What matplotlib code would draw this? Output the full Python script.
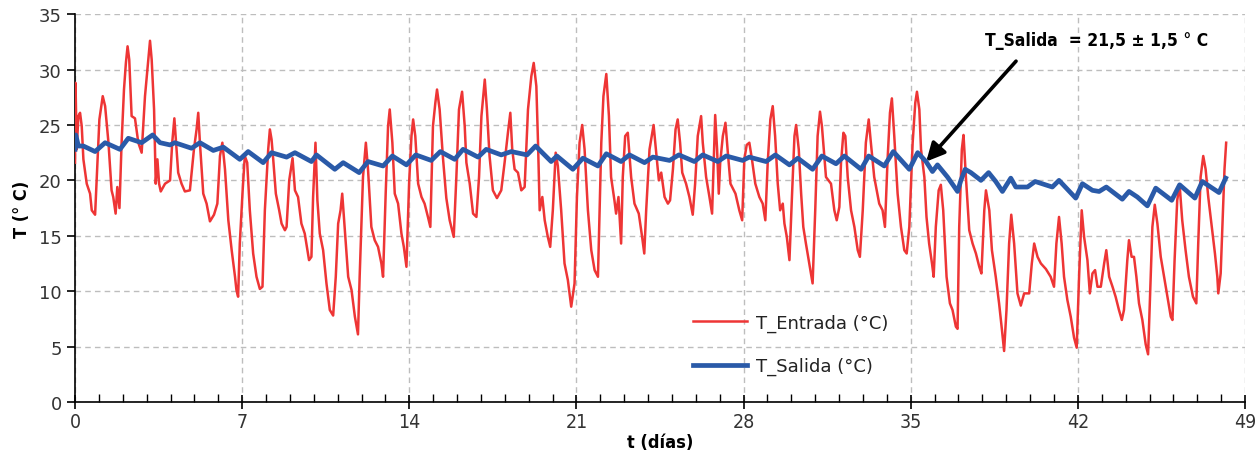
import matplotlib
matplotlib.use("Agg")
import matplotlib.pyplot as plt
from matplotlib.ticker import MultipleLocator
from matplotlib import font_manager
from matplotlib.font_manager import FontProperties

# T_Entrada: extremos (dias, °C)
t_entrada_dias = [
    0.00, 0.02, 0.07, 0.14, 0.21, 0.28, 0.35, 0.49, 0.63, 0.70, 0.84, 1.02, 1.16, 1.26, 1.40, 1.53,
    1.60, 1.70, 1.77, 1.86, 1.95, 2.05, 2.13, 2.20, 2.27, 2.37, 2.51, 2.65, 2.79, 2.93, 3.03, 3.14,
    3.21, 3.31, 3.38, 3.45, 3.52, 3.59, 3.77, 3.98, 4.07, 4.16, 4.23, 4.32, 4.46, 4.60, 4.81, 4.98,
    5.09, 5.16, 5.23, 5.37, 5.51, 5.65, 5.82, 5.96, 6.07, 6.17, 6.28, 6.42, 6.56, 6.70, 6.76, 6.83,
    6.90, 7.02, 7.11, 7.21, 7.32, 7.46, 7.60, 7.74, 7.85, 7.95, 8.02, 8.09, 8.16, 8.23, 8.30, 8.41,
    8.55, 8.65, 8.79, 8.86, 8.97, 9.11, 9.21, 9.34, 9.48, 9.62, 9.80, 9.90, 9.97, 10.07, 10.15, 10.25,
    10.39, 10.53, 10.67, 10.81, 10.92, 11.02, 11.12, 11.19, 11.30, 11.44, 11.58, 11.72, 11.85, 11.92,
    12.06, 12.18, 12.27, 12.41, 12.55, 12.69, 12.83, 12.90, 13.01, 13.11, 13.18, 13.29, 13.39, 13.53,
    13.67, 13.77, 13.88, 13.99, 14.09, 14.16, 14.25, 14.37, 14.51, 14.64, 14.78, 14.88, 14.99, 15.09,
    15.16, 15.27, 15.41, 15.55, 15.69, 15.86, 15.97, 16.08, 16.21, 16.32, 16.39, 16.53, 16.67, 16.81,
    16.92, 17.02, 17.16, 17.25, 17.36, 17.50, 17.67, 17.85, 17.99, 18.13, 18.23, 18.31, 18.41, 18.55,
    18.69, 18.83, 18.97, 19.11, 19.21, 19.32, 19.39, 19.46, 19.57, 19.67, 19.80, 19.90, 20.01, 20.13,
    20.22, 20.36, 20.50, 20.64, 20.78, 20.92, 21.02, 21.13, 21.24, 21.34, 21.48, 21.62, 21.76, 21.90,
    22.04, 22.13, 22.25, 22.36, 22.45, 22.59, 22.66, 22.76, 22.87, 22.94, 23.04, 23.15, 23.29, 23.43,
    23.61, 23.75, 23.84, 23.92, 24.06, 24.23, 24.34, 24.45, 24.55, 24.69, 24.83, 24.92, 25.04, 25.15,
    25.24, 25.34, 25.43, 25.59, 25.73, 25.87, 25.97, 26.08, 26.15, 26.22, 26.29, 26.43, 26.57, 26.68,
    26.74, 26.81, 26.89, 26.96, 27.02, 27.13, 27.24, 27.34, 27.45, 27.66, 27.82, 27.94, 28.03, 28.13,
    28.24, 28.35, 28.49, 28.66, 28.80, 28.91, 29.01, 29.12, 29.22, 29.32, 29.43, 29.53, 29.64, 29.71,
    29.81, 29.92, 30.03, 30.13, 30.20, 30.31, 30.41, 30.50, 30.61, 30.75, 30.89, 31.00, 31.10, 31.20,
    31.28, 31.38, 31.45, 31.66, 31.80, 31.90, 32.01, 32.08, 32.18, 32.26, 32.36, 32.50, 32.64, 32.78,
    32.87, 32.99, 33.12, 33.24, 33.33, 33.47, 33.68, 33.82, 33.92, 34.03, 34.13, 34.21, 34.31, 34.45,
    34.59, 34.73, 34.83, 34.94, 35.08, 35.19, 35.26, 35.36, 35.43, 35.57, 35.66, 35.77, 35.89, 35.96,
    36.05, 36.17, 36.26, 36.36, 36.50, 36.64, 36.75, 36.89, 36.96, 37.03, 37.14, 37.21, 37.31, 37.45,
    37.59, 37.73, 37.87, 37.96, 38.08, 38.15, 38.29, 38.40, 38.56, 38.70, 38.82, 38.91, 39.01, 39.12,
    39.21, 39.33, 39.47, 39.61, 39.75, 39.96, 40.07, 40.17, 40.31, 40.45, 40.66, 40.86, 41.00, 41.10,
    41.21, 41.32, 41.42, 41.56, 41.70, 41.84, 41.95, 42.05, 42.16, 42.26, 42.40, 42.50, 42.61, 42.72,
    42.82, 42.96, 43.10, 43.19, 43.31, 43.45, 43.58, 43.72, 43.84, 43.93, 44.07, 44.14, 44.25, 44.35,
    44.45, 44.56, 44.70, 44.84, 44.94, 45.05, 45.12, 45.22, 45.33, 45.47, 45.61, 45.75, 45.89, 45.96,
    46.05, 46.16, 46.26, 46.37, 46.51, 46.65, 46.82, 46.96, 47.04, 47.14, 47.25, 47.35, 47.46, 47.56,
    47.66, 47.74, 47.84, 47.88, 47.98, 48.05, 48.14, 48.21,
]
t_entrada = [
    21.6, 28.8, 22.8, 25.8, 26.1, 24.9, 21.9, 19.7, 18.8, 17.3, 16.9, 25.5, 27.6, 26.7, 23.4, 19.1,
    18.5, 17.0, 19.4, 17.5, 23.4, 28.2, 30.6, 32.1, 30.9, 25.8, 25.6, 23.4, 22.5, 27.6, 30.0, 32.6,
    30.9, 26.4, 19.7, 21.9, 19.7, 19.0, 19.7, 20.0, 23.4, 25.6, 23.4, 20.7, 19.7, 19.0, 19.1, 22.8,
    24.6, 26.1, 23.4, 18.8, 17.9, 16.3, 16.9, 17.9, 22.2, 23.4, 21.0, 16.4, 13.7, 11.3, 10.1, 9.5,
    14.3, 19.1, 22.2, 21.6, 17.3, 13.4, 11.3, 10.2, 10.4, 17.3, 20.0, 22.8, 24.6, 23.7, 21.9, 18.8,
    17.3, 16.1, 15.5, 15.8, 20.0, 22.0, 19.1, 18.5, 16.1, 15.2, 12.8, 13.1, 18.5, 23.4, 18.2, 15.2,
    13.7, 10.7, 8.3, 7.8, 11.3, 16.1, 17.3, 18.8, 15.5, 11.3, 10.1, 7.7, 6.1, 11.3,
    20.3, 23.4, 21.0, 15.8, 14.6, 14.0, 12.5, 11.3, 18.8, 24.9, 26.4, 23.4, 18.8, 17.9,
    15.2, 14.0, 12.2, 19.7, 24.0, 25.5, 24.0, 19.7, 18.5, 17.9, 16.7, 15.8, 24.9, 27.0,
    28.2, 26.4, 22.0, 18.4, 16.4, 14.9, 20.3, 26.4, 28.0, 24.9, 21.6, 19.7, 17.0, 16.7,
    20.3, 25.8, 29.1, 26.4, 22.2, 19.1, 18.4, 19.1, 21.6, 24.3, 26.1, 22.8, 21.0, 20.7,
    19.1, 19.4, 26.4, 29.4, 30.6, 28.5, 23.4, 17.3, 18.5, 16.4, 14.9, 14.0, 17.3, 22.5,
    21.3, 17.3, 12.5, 11.0, 8.6, 10.7, 18.5, 23.4, 25.0, 22.8, 17.3, 13.7, 11.9, 11.3,
    23.4, 27.6, 29.6, 25.8, 20.3, 18.2, 17.0, 18.5, 14.3, 20.3, 24.0, 24.3, 20.3, 17.9,
    17.0, 14.9, 13.4, 17.3, 22.8, 25.0, 22.5, 20.0, 20.7, 18.5, 17.9, 18.2, 21.0, 24.6,
    25.5, 23.4, 20.7, 19.7, 18.5, 16.9, 19.7, 24.0, 24.9, 25.8, 23.4, 20.3, 18.5, 17.0,
    21.0, 25.9, 22.8, 18.8, 21.6, 24.0, 25.2, 22.5, 19.7, 18.8, 17.3, 16.4, 21.9, 23.2,
    23.4, 21.9, 19.7, 18.5, 17.9, 16.4, 21.6, 25.5, 26.7, 24.0, 19.7, 17.3, 17.9, 16.1,
    14.9, 12.8, 18.8, 24.0, 25.0, 22.8, 18.8, 15.8, 14.3, 12.5, 10.7, 17.3, 24.0, 26.2,
    24.9, 22.2, 20.3, 19.7, 17.3, 16.4, 17.6, 21.6, 24.3, 24.0, 20.3, 17.3, 15.8, 13.7,
    13.1, 17.3, 23.4, 25.5, 23.4, 20.3, 17.9, 17.3, 15.8, 21.9, 26.1, 27.4, 24.0, 18.8,
    15.8, 13.7, 13.4, 15.8, 23.4, 27.0, 28.0, 26.4, 22.8, 20.3, 16.7, 14.3, 12.5, 11.3,
    15.8, 19.1, 19.6, 17.3, 11.3, 8.9, 8.3, 6.8, 6.6, 15.8, 22.8, 24.1, 20.3, 15.5,
    14.3, 13.4, 12.2, 11.6, 17.3, 19.1, 17.3, 13.7, 11.3, 8.9, 6.5, 4.6, 8.3, 14.3,
    16.9, 14.3, 9.8, 8.7, 9.8, 9.8, 12.5, 14.3, 13.1, 12.5, 12.0, 11.3, 10.4, 14.3,
    16.7, 14.3, 11.3, 9.2, 7.7, 5.8, 4.9, 11.3, 17.3, 14.9, 12.8, 9.8, 11.6, 11.9,
    10.4, 10.4, 12.5, 13.7, 11.3, 10.4, 9.5, 8.3, 7.4, 8.3, 12.8, 14.6, 13.1, 13.1,
    11.3, 8.9, 7.4, 5.2, 4.3, 11.3, 15.8, 17.8, 16.1, 13.1, 11.3, 9.5, 7.7, 7.4,
    12.8, 18.2, 19.6, 16.4, 13.7, 11.3, 9.5, 8.9, 14.3, 20.3, 22.2, 21.0, 18.5, 16.7,
    14.9, 13.4, 11.3, 9.8, 11.6, 15.8, 21.0, 23.4,
]

# T_Salida (dias, °C)
t_salida_dias = [
    0.00, 0.03, 0.14, 0.35, 0.84, 1.26, 1.88, 2.23, 2.79, 3.25, 3.56, 3.98, 4.18, 4.88, 5.23, 5.79,
    6.21, 6.90, 7.25, 7.88, 8.23, 8.86, 9.21, 9.90, 10.11, 10.88, 11.23, 11.90, 12.27, 12.90, 13.29,
    13.88, 14.27, 14.92, 15.30, 15.90, 16.25, 16.88, 17.22, 17.85, 18.27, 18.93, 19.29, 19.94, 20.18,
    20.85, 21.27, 21.90, 22.25, 22.87, 23.22, 23.85, 24.20, 24.90, 25.29, 25.94, 26.29, 26.92, 27.27,
    27.96, 28.24, 28.94, 29.33, 29.92, 30.27, 30.89, 31.28, 31.87, 32.22, 32.92, 33.24, 33.89, 34.27,
    34.94, 35.29, 35.64, 35.91, 36.12, 36.54, 36.96, 37.10, 37.28, 37.52, 37.94, 38.26, 38.56, 38.84,
    39.19, 39.40, 39.89, 40.21, 40.93, 41.21, 41.91, 42.19, 42.61, 42.89, 43.19, 43.86, 44.14, 44.49,
    44.91, 45.26, 45.93, 46.26, 46.90, 47.21, 47.91, 48.19,
]
t_salida = [
    22.8, 24.1, 23.1, 23.1, 22.6, 23.4, 22.8, 23.8, 23.4, 24.1, 23.4, 23.2, 23.4, 22.9, 23.4, 22.7,
    23.0, 21.9, 22.6, 21.6, 22.5, 22.1, 22.5, 21.7, 22.3, 21.0, 21.6, 20.7, 21.7, 21.3, 22.2,
    21.4, 22.3, 21.8, 22.6, 21.9, 22.8, 22.1, 22.8, 22.3, 22.6, 22.3, 23.1, 21.7, 22.2,
    21.0, 22.0, 21.3, 22.4, 21.7, 22.3, 21.6, 22.1, 21.8, 22.3, 21.7, 22.3, 21.7, 22.2,
    21.8, 22.1, 21.7, 22.3, 21.4, 22.0, 21.0, 22.2, 21.5, 22.2, 21.0, 22.2, 21.3, 22.6,
    21.0, 22.5, 21.7, 20.8, 21.4, 20.3, 19.0, 20.0, 21.0, 20.7, 20.0, 20.7, 19.9, 19.0,
    20.2, 19.4, 19.4, 19.9, 19.4, 20.0, 18.4, 19.7, 19.1, 19.0, 19.4, 18.3, 19.0, 18.5,
    17.7, 19.3, 18.2, 19.6, 18.4, 19.9, 18.9, 20.2,
]

y_ticks = [0, 5, 10, 15, 20, 25, 30, 35]
x_ticks = [0, 7, 14, 21, 28, 35, 42, 49]


def pick_font(bold):
    # busca una fuente estrecha instalada (Narrow / Condensed)
    for f in font_manager.fontManager.ttflist:
        fn = f.fname.lower()
        if ("narrow" in fn or "condensed" in fn) and "italic" not in fn and "oblique" not in fn:
            if bold == ("bold" in fn):
                return FontProperties(fname=f.fname)
    return FontProperties(family="Liberation Sans", weight="bold" if bold else "normal")


fp_narrow = pick_font(False)
fp_narrow_b = pick_font(True)

fig = plt.figure(figsize=(12.59, 4.60), dpi=100)
ax = fig.add_axes([0.0596, 0.124, 0.9293, 0.843])

ax.plot(t_entrada_dias, t_entrada, color="#ee3535", lw=1.8, label="T_Entrada (°C)", zorder=3)
ax.plot(t_salida_dias, t_salida, color="#2a5aa8", lw=3.4, label="T_Salida (°C)", zorder=4)

ax.set_xlim(0, 49)
ax.set_ylim(0, 35)
ax.set_xticks(x_ticks)
ax.set_yticks(y_ticks)
ax.xaxis.set_minor_locator(MultipleLocator(1))
ax.grid(True, which="major", color="#bdbdbd", ls=(0, (4, 3)), lw=1)
ax.set_axisbelow(True)

for s in ["top", "right"]:
    ax.spines[s].set_visible(False)
ax.spines["left"].set_linewidth(1.2)
ax.spines["bottom"].set_linewidth(1.2)

ax.tick_params(axis="x", which="major", direction="inout", length=10, width=1.2, pad=2)
ax.tick_params(axis="x", which="minor", direction="in", length=6, width=1)
ax.tick_params(axis="y", which="major", direction="out", length=6, width=1.2,
               labelsize=13, labelcolor="#333333")
for lab in ax.get_xticklabels():
    lab.set_fontproperties(fp_narrow)
    lab.set_fontsize(14)
    lab.set_color("#333333")

ax.set_xlabel("t (días)", fontproperties=fp_narrow_b, fontsize=13, labelpad=2)
ax.set_ylabel("T (° C)", fontproperties=fp_narrow_b, fontsize=13, labelpad=6)

leg = ax.legend(loc="upper left", bbox_to_anchor=(0.514, 0.27), frameon=False,
                fontsize=13, handlelength=3.0, labelspacing=1.4, handletextpad=0.5)
for t in leg.get_texts():
    t.set_color("#222222")

ax.text(42.8, 32.7, "T_Salida  = 21,5 ± 1,5 ° C", ha="center", va="center",
        fontproperties=fp_narrow_b, fontsize=12.5)
ax.annotate("", xy=(35.65, 21.7), xytext=(39.41, 30.76),
            arrowprops=dict(arrowstyle="-|>,head_length=1.1,head_width=0.55", color="black",
                            lw=2.6, shrinkA=0, shrinkB=0))

fig.savefig("out.png", dpi=100)
